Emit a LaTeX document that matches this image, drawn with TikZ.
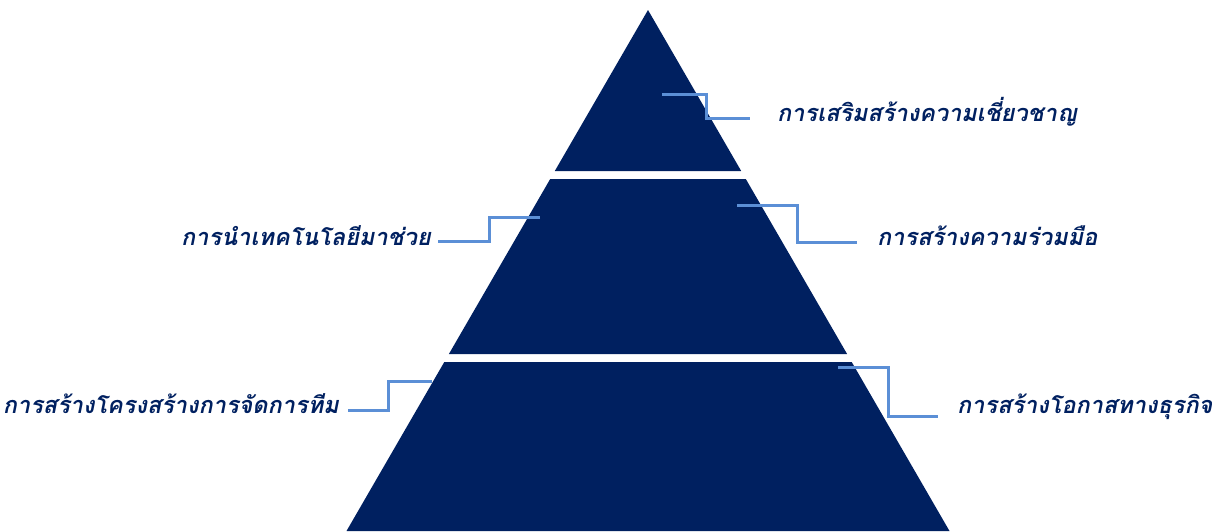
\documentclass[tikz,border=0pt]{standalone}
\usepackage{fontspec}
\newfontfamily\thaifont[Script=Thai,FakeSlant=0.2,
  BoldFeatures={FakeSlant=0.2}]{Loma}
\definecolor{pyrNavy}{RGB}{0,32,96}
\definecolor{linkBlue}{RGB}{91,143,214}
\usetikzlibrary{positioning}

\begin{document}
\begin{tikzpicture}[x=1pt, y=-1pt,
    layer/.style={fill=pyrNavy},
    link/.style={draw=linkBlue, line width=3pt},
    lbl/.style={text=pyrNavy, inner sep=0pt,
                font=\thaifont\bfseries\fontsize{23.5}{27}\selectfont}
  ]
    \useasboundingbox (0,0) rectangle (1219,531);

    % three layers
    \fill[layer] (648,10) -- (741.2,171) -- (554.8,171) -- cycle;
    \fill[layer] (550.2,179) -- (745.8,179) -- (847.1,354) -- (448.9,354) -- cycle;
    \fill[layer] (444.3,362) -- (851.7,362) -- (949.5,531) -- (346.5,531) -- cycle;

    % labels
    \node[lbl, anchor=base west] (top)   at (777,121) {การเสริมสร้างความเชี่ยวชาญ};
    \node[lbl, anchor=base east] (midL)  at (431,245) {การนำเทคโนโลยีมาช่วย};
    \node[lbl, anchor=base west] (midR)  at (877,245) {การสร้างความร่วมมือ};
    \node[lbl, anchor=base east] (botL)  at (339,413) {การสร้างโครงสร้างการจัดการทีม};
    \node[lbl, anchor=base west] (botR)  at (957,413) {การสร้างโอกาสทางธุรกิจ};

    % connector ends
    \coordinate (s1) at (662,94);   \coordinate (e1) at (750,118);
    \coordinate (s2) at (540,217);  \coordinate (e2) at (438,241);
    \coordinate (s3) at (737,205);  \coordinate (e3) at (857,242);
    \coordinate (s4) at (432,381);  \coordinate (e4) at (348,410);
    \coordinate (s5) at (838,367);  \coordinate (e5) at (938,416);

    \draw[link] (s1) -| (706,106) |- (e1);
    \draw[link] (s2) -| (489,229) |- (e2);
    \draw[link] (s3) -| (797,224) |- (e3);
    \draw[link] (s4) -| (388,396) |- (e4);
    \draw[link] (s5) -| (888,392) |- (e5);
  \end{tikzpicture}
\end{document}
